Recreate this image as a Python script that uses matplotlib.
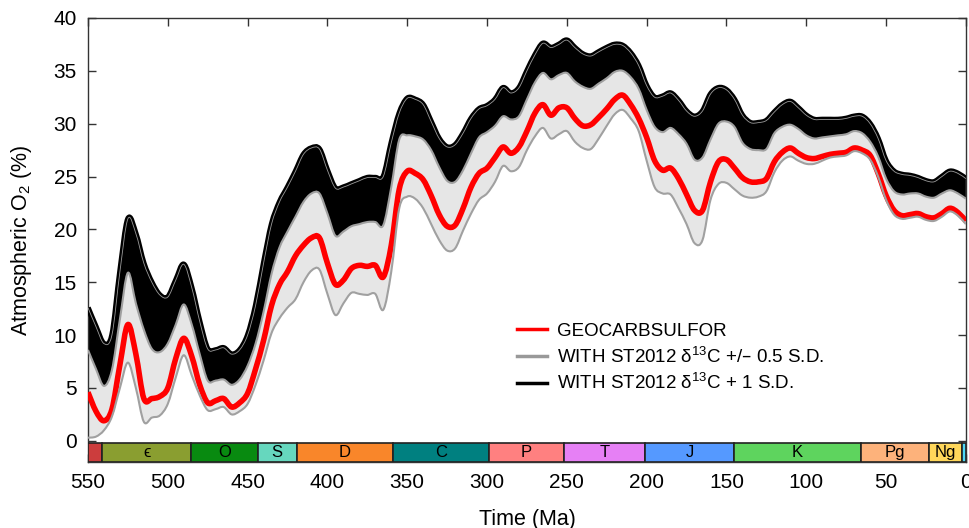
import matplotlib
matplotlib.use('Agg')
import matplotlib.pyplot as plt
from matplotlib.patches import Rectangle, PathPatch
from matplotlib.path import Path
import numpy as np

plt.rcParams['font.family'] = ['Liberation Sans', 'DejaVu Sans']
plt.rcParams['mathtext.default'] = 'regular'

# time axis (Ma), every 5 Myr
time = np.arange(550, -1, -5)

# GEOCARBSULFOR
o2_geocarb = [4.6, 2.8, 1.9, 3.0, 7.2, 11.0, 8.2, 4.0, 4.0, 4.2,
              5.0, 7.8, 9.7, 8.0, 5.3, 3.6, 3.8, 4.0, 3.2, 3.6,
              4.5, 6.8, 9.5, 12.8, 14.8, 16.0, 17.5, 18.5, 19.2, 19.2,
              16.8, 14.8, 15.2, 16.3, 16.6, 16.5, 16.6, 15.5, 18.5, 23.8,
              25.5, 25.3, 24.7, 23.2, 21.4, 20.3, 20.4, 22.0, 24.0, 25.3,
              25.8, 26.8, 27.8, 27.2, 27.8, 29.3, 31.0, 31.8, 30.8, 31.5,
              31.5, 30.5, 29.8, 29.9, 30.6, 31.4, 32.3, 32.7, 31.8, 30.5,
              28.7, 26.5, 25.6, 25.8, 24.8, 23.3, 21.8, 21.8, 24.5, 26.4,
              26.6, 25.8, 24.9, 24.5, 24.5, 24.8, 26.4, 27.3, 27.7, 27.2,
              26.8, 26.7, 26.9, 27.1, 27.2, 27.3, 27.7, 27.5, 27.0, 25.3,
              23.2, 21.8, 21.3, 21.4, 21.5, 21.2, 21.1, 21.5, 22.0, 21.6,
              20.8]

# ST2012 d13C -0.5 S.D.
o2_low = [0.3, 0.4, 1.0, 2.3, 5.0, 7.4, 5.0, 1.8, 2.2, 2.4,
          3.5, 6.0, 8.1, 6.2, 4.3, 2.9, 3.0, 3.2, 2.5, 2.8,
          3.5, 5.3, 7.6, 10.2, 11.6, 12.6, 13.4, 15.0, 16.1, 16.2,
          13.9, 11.9, 13.0, 14.0, 13.9, 13.8, 13.9, 12.4, 16.0, 22.0,
          23.1, 22.9, 22.0, 20.5, 19.0, 18.0, 18.2, 19.9, 21.5, 22.8,
          23.4, 24.5, 26.0, 25.5, 25.9, 27.5, 28.8, 29.6, 28.6, 29.0,
          29.3, 28.3, 27.7, 27.6, 28.6, 29.8, 30.9, 31.3, 30.5, 29.3,
          26.5, 24.0, 23.4, 23.3, 22.0, 20.5, 18.7, 19.0, 22.8, 24.3,
          24.4, 23.8, 23.2, 23.0, 23.1, 23.6, 25.4, 26.5, 26.9, 26.5,
          26.2, 26.2, 26.5, 26.8, 26.9, 27.0, 27.4, 27.2, 26.6, 25.0,
          22.8, 21.4, 21.0, 21.1, 21.2, 20.9, 20.8, 21.2, 21.7, 21.3,
          20.5]

# ST2012 d13C +0.5 S.D.
o2_mid = [8.6, 6.8, 5.2, 6.7, 11.5, 15.9, 13.0, 10.5, 8.7, 8.4,
          9.2, 11.0, 12.9, 11.0, 8.2, 5.7, 5.7, 5.8, 5.3, 5.8,
          7.1, 9.2, 12.2, 15.8, 18.3, 19.8, 21.2, 22.6, 23.4, 23.4,
          21.5, 19.4, 19.8, 20.3, 20.5, 20.7, 20.7, 20.4, 24.0, 28.5,
          28.9, 28.8, 28.5, 27.5, 25.9, 24.6, 24.5, 25.6, 27.2, 28.7,
          29.2, 29.8, 30.7, 30.4, 30.7, 32.3, 33.9, 34.8, 34.2, 34.6,
          34.8, 34.0, 33.5, 33.3, 33.8, 34.3, 34.9, 35.0, 34.4, 33.3,
          31.3, 29.7, 29.2, 29.6, 29.0, 28.1, 26.6, 26.8, 28.5, 30.0,
          30.2, 29.7, 28.2, 27.6, 27.5, 27.6, 29.1, 29.7, 29.9, 29.5,
          28.9, 28.6, 28.7, 28.8, 28.9, 29.0, 29.3, 29.1, 28.3, 26.9,
          24.8, 23.6, 23.3, 23.4, 23.4, 23.1, 23.0, 23.4, 23.7, 23.4,
          22.9]

# ST2012 d13C +1 S.D.
o2_high = [12.6, 10.8, 9.2, 10.0, 16.0, 21.0, 19.6, 16.8, 15.0, 13.8,
           13.6, 15.2, 16.7, 14.5, 11.3, 8.7, 8.6, 8.8, 8.2, 8.6,
           10.0, 12.8, 16.8, 20.5, 22.6, 24.0, 25.5, 27.1, 27.7, 27.6,
           25.6, 23.9, 24.0, 24.3, 24.6, 24.9, 24.9, 25.0, 28.2, 31.0,
           32.4, 32.3, 31.8, 30.2, 28.6, 27.8, 28.0, 29.1, 30.5, 31.4,
           31.7, 32.3, 33.4, 32.9, 33.4, 35.0, 36.5, 37.6, 37.2, 37.5,
           37.9, 37.2, 36.6, 36.4, 36.8, 37.2, 37.5, 37.4, 36.7, 35.5,
           33.6, 32.5, 32.6, 32.9, 32.2, 31.2, 30.7, 31.2, 32.8, 33.4,
           33.2, 32.3, 30.8, 30.1, 30.1, 30.3, 31.1, 31.8, 32.1, 31.5,
           30.8, 30.4, 30.4, 30.4, 30.4, 30.5, 30.7, 30.7, 30.0, 28.6,
           26.5, 25.5, 25.2, 25.1, 24.9, 24.6, 24.5, 25.0, 25.5, 25.3,
           24.8]

# geologic periods
period_labels = ['', 'ϵ', 'O', 'S', 'D', 'C', 'P', 'T', 'J', 'K', 'Pg', 'Ng', '']
period_start = [550, 541, 485.4, 443.8, 419.2, 358.9, 298.9, 251.9, 201.3, 145, 66, 23, 2.6]
period_end = [541, 485.4, 443.8, 419.2, 358.9, 298.9, 251.9, 201.3, 145, 66, 23, 2.6, 0]
period_colors = ['#CC3D3D', '#8A9E30', '#088A10', '#66D7BE', '#F9862A', '#008080',
                 '#FF8080', '#E680F5', '#5599FF', '#5ED45E', '#FDB27B', '#FFD75A', '#4ED8F5']


def bezier_verts(x, y):
    # smooth curve through the points (Catmull-Rom as cubic Bezier segments)
    p = np.column_stack([x, y]).astype(float)
    ext = np.vstack([p[0], p, p[-1]])
    verts = [p[0]]
    for i in range(len(p) - 1):
        p0, p1, p2, p3 = ext[i], ext[i + 1], ext[i + 2], ext[i + 3]
        verts += [p1 + (p2 - p0) / 6, p2 - (p3 - p1) / 6, p2]
    return np.array(verts)


def smooth_line(ax, x, y, **kw):
    v = bezier_verts(x, y)
    codes = [Path.MOVETO] + [Path.CURVE4] * (len(v) - 1)
    ax.add_patch(PathPatch(Path(v, codes), fill=False, capstyle='butt',
                           joinstyle='round', **kw))


def smooth_band(ax, x, y1, y2, **kw):
    v1 = bezier_verts(x, y1)
    v2 = bezier_verts(x, y2)[::-1]
    v = np.vstack([v1, v2, v1[:1]])
    codes = ([Path.MOVETO] + [Path.CURVE4] * (len(v1) - 1) + [Path.LINETO]
             + [Path.CURVE4] * (len(v2) - 1) + [Path.CLOSEPOLY])
    ax.add_patch(PathPatch(Path(v, codes), lw=0, **kw))


fig = plt.figure(figsize=(9.69, 5.28), dpi=100)
ax = fig.add_axes([0.0908, 0.125, 0.906, 0.841])

smooth_band(ax, time, o2_low, o2_mid, facecolor='#E6E6E6', zorder=1)
smooth_band(ax, time, o2_mid, o2_high, facecolor='black', zorder=2)
smooth_line(ax, time, o2_high, edgecolor='black', lw=4, zorder=3)
smooth_line(ax, time, o2_high, edgecolor='#9A9A9A', lw=0.6, zorder=3)
smooth_line(ax, time, o2_mid, edgecolor='#A0A0A0', lw=1.5, zorder=3)
smooth_line(ax, time, o2_geocarb, edgecolor='#FF0000', lw=4, zorder=4)
smooth_line(ax, time, o2_low, edgecolor='#A0A0A0', lw=1.5, zorder=5)

# period bar
for s, e, lab, c in zip(period_start, period_end, period_labels, period_colors):
    ax.add_patch(Rectangle((e, -2), s - e, 1.8, facecolor=c, edgecolor='#222222',
                           lw=1.2, zorder=6))
    if lab:
        ax.text((s + e) / 2, -1.1, lab, ha='center', va='center', fontsize=12, zorder=7)

# legend handles
ax.plot([], [], color='#FF0000', lw=2.5, label='GEOCARBSULFOR')
ax.plot([], [], color='#999999', lw=2.5, label='WITH ST2012 δ$^{13}$C +/– 0.5 S.D.')
ax.plot([], [], color='black', lw=2.5, label='WITH ST2012 δ$^{13}$C + 1 S.D.')
ax.legend(loc='upper left', bbox_to_anchor=(0.469, 0.352),
          frameon=False, fontsize=13.5, handlelength=1.6, handletextpad=0.55,
          labelspacing=0.36)

ax.set_xlim(550, 0)
ax.set_ylim(-2, 40)
ax.set_xticks(np.arange(550, -1, -50))
ax.set_yticks(np.arange(0, 41, 5))
ax.tick_params(direction='in', top=True, right=True, length=6, width=1,
               labelsize=15, colors='#333333', labelcolor='black', pad=8)
for sp in ax.spines.values():
    sp.set_color('#333333')
    sp.set_linewidth(1)

ax.set_xlabel('Time (Ma)', fontsize=15.5, labelpad=12)
ax.set_ylabel('Atmospheric O$_2$ (%)', fontsize=15.5, labelpad=14)

fig.savefig('out.png', dpi=100)
